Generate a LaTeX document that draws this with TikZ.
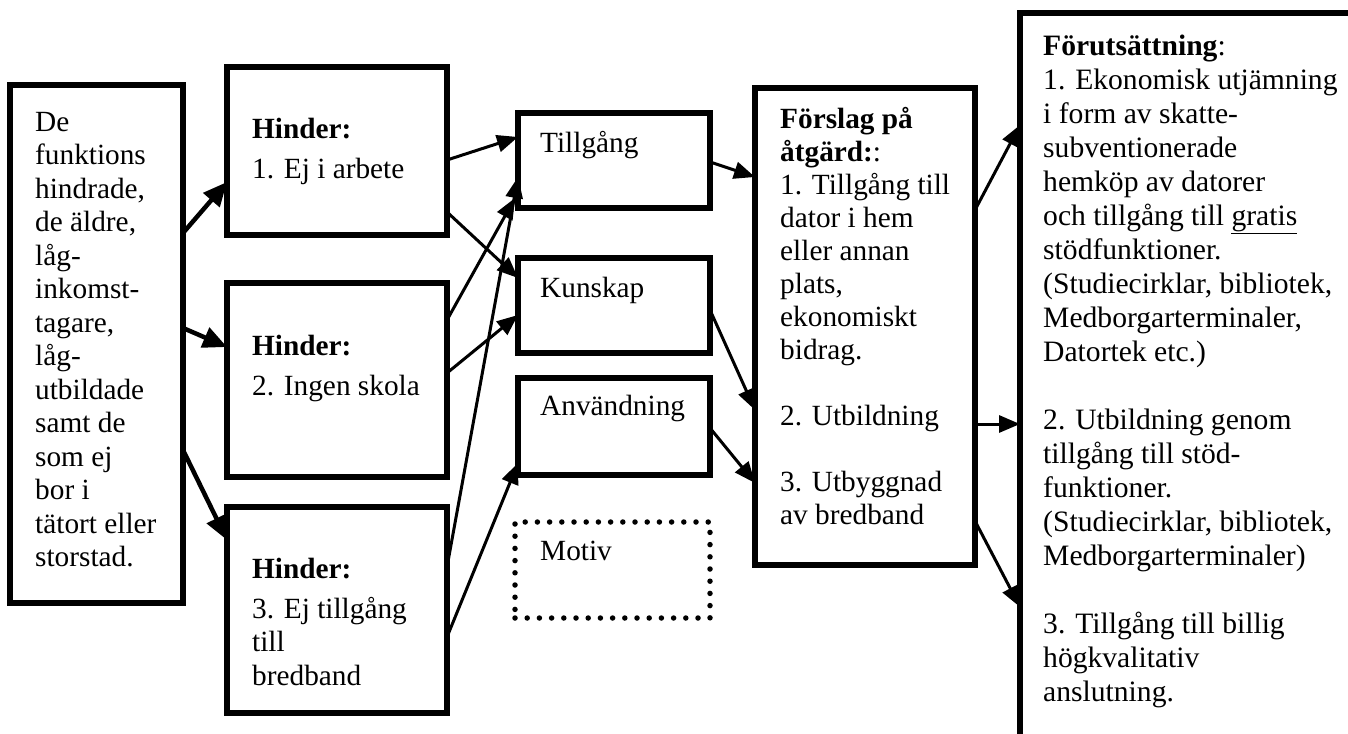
\documentclass[tikz,border=0pt]{standalone}
\usepackage{fontspec}
\setmainfont{Liberation Serif}
\usetikzlibrary{arrows.meta,calc}
\begin{document}
\begin{tikzpicture}[x=1pt,y=-1pt,
  box/.style={draw, line width=5.7pt, inner sep=0pt, outer sep=0pt, anchor=north west},
  dotbox/.style={draw, line width=5.5pt, dash pattern=on 0pt off 12.2pt, line cap=round,
                 inner sep=0pt, outer sep=0pt, anchor=north west},
  txt/.style={inner sep=0pt, anchor=north west, align=left, font=\fontsize{29.3}{33.5}\selectfont},
  txtF/.style={txt, font=\fontsize{29.3}{33}\selectfont},
  txtR/.style={txt, font=\fontsize{29.6}{34}\selectfont},
  arrL/.style={line width=4.5pt, -{Triangle[length=24pt,width=21pt]}},
  arr/.style={line width=3pt, -{Triangle[length=21pt,width=17pt]}},
]
\clip (0,0) rectangle (1348,733);
\fill[white] (0,0) rectangle (1348,733);

% boxes
\node[box, minimum width=173pt, minimum height=518pt] (L)  at (10,85)   {};
\node[box, minimum width=220pt, minimum height=168pt] (H1) at (227,67)  {};
\node[box, minimum width=220pt, minimum height=194pt] (H2) at (227,283) {};
\node[box, minimum width=220pt, minimum height=206pt] (H3) at (227,507) {};
\node[box, minimum width=192pt, minimum height=95pt]  (T)  at (518,113) {};
\node[box, minimum width=192pt, minimum height=95pt]  (K)  at (518,258) {};
\node[box, minimum width=192pt, minimum height=97pt]  (A)  at (518,378) {};
\node[dotbox, minimum width=195pt, minimum height=96pt] (M) at (515,522) {};
\node[box, minimum width=220pt, minimum height=477pt] (F)  at (755,88)  {};
\node[box, minimum width=400pt, minimum height=800pt] (R)  at (1020,13) {};

% texts
\node[txt] (Lt) at (35,107.5) {\strut De\\funktions\\hindrade,\\de äldre,\\låg-\\inkomst-\\tagare,\\låg-\\utbildade\\samt de\\som ej\\bor i\\tätort eller\\storstad.};
\node[txt] (H1t) at (252,114.5) {\strut\textbf{Hinder:}\\[6.5pt]1. Ej i arbete};
\node[txt] (H2t) at (252,331.5) {\strut\textbf{Hinder:}\\[6.5pt]2. Ingen skola};
\node[txt] (H3t) at (252,554.5) {\strut\textbf{Hinder:}\\[6.5pt]3. Ej tillgång\\till\\bredband};
\node[txt] (Tt) at (540,128.5) {\strut Tillgång};
\node[txt] (Kt) at (540,273.5) {\strut Kunskap};
\node[txt] (At) at (540,391.5) {\strut Användning};
\node[txt] (Mt) at (540,536.5) {\strut Motiv};
\node[txtF] (Ft) at (780,104.9) {\strut\textbf{Förslag på}\\\textbf{åtgärd:}:\\1. Tillgång till\\dator i hem\\eller annan\\plats,\\ekonomiskt\\bidrag.\\[33pt]2. Utbildning\\[33pt]3. Utbyggnad\\av bredband};
\node[txtR] (Rt) at (1043,31.2) {\strut\textbf{Förutsättning}:\\1. Ekonomisk utjämning\\i form av skatte-\\subventionerade\\hemköp av datorer\\och tillgång till \underline{gratis}\\stödfunktioner.\\(Studiecirklar, bibliotek,\\Medborgarterminaler,\\Datortek etc.)\\[34pt]2. Utbildning genom\\tillgång till stöd-\\funktioner.\\(Studiecirklar, bibliotek,\\Medborgarterminaler)\\[34pt]3. Tillgång till billig\\högkvalitativ\\anslutning.};

% connectors from the target groups to the obstacles
\draw[arrL] ($(L.north east)+(0,148)$) -- ($(H1.north west)+(0,115)$);
\draw[arrL] ($(L.north east)+(0,243)$) -- ($(H2.north west)+(0,64)$);
\draw[arrL] ($(L.north east)+(0,365)$) -- ($(H3.north west)+(0,33)$);

% obstacles to access / knowledge / use
\draw[arr] ($(H1.north east)+(0,93)$)  -- ($(T.north west)+(0,24)$);
\draw[arr] ($(H1.north east)+(0,145)$) -- ($(K.north west)+(0,20)$);
\draw[arr] ($(H2.north east)+(0,37)$)  -- ($(T.north west)+(-3,85)$);
\draw[arr] ($(H2.north east)+(0,90)$)  -- ($(K.north west)+(0,57)$);
\draw[arr] ($(H3.north east)+(0,60)$)  -- ($(T.north west)+(0,64)$);
\draw[arr] ($(H3.north east)+(0,130)$) -- ($(A.north west)+(0,85)$);

% into the proposal box
\draw[arr] ($(T.north east)+(0,49)$) -- ($(F.north west)+(0,89)$);
\draw[arr] ($(K.north east)+(0,52)$) -- ($(F.north west)+(0,322)$);
\draw[arr] ($(A.north east)+(0,50)$) -- ($(F.north west)+(0,395)$);

% proposal to prerequisites
\draw[arr] ($(F.north east)+(0,122)$) -- ($(R.north west)+(0,112)$);
\draw[arr] ($(F.north east)+(0,336)$) -- ($(R.north west)+(0,411)$);
\draw[arr] ($(F.north east)+(0,433)$) -- ($(R.north west)+(0,594)$);
\end{tikzpicture}
\end{document}
